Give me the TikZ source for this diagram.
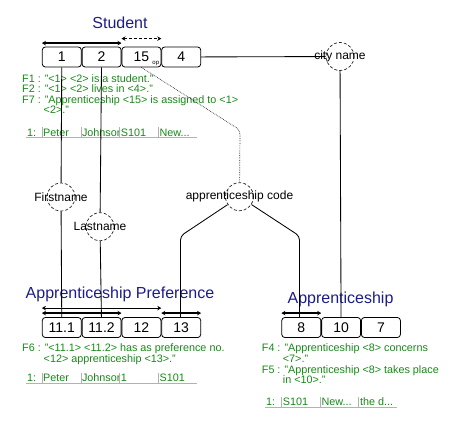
\documentclass[tikz,border=0pt]{standalone}
\usepackage{fontspec}
\setmainfont{Liberation Sans}
\usepackage{xcolor}
\usetikzlibrary{positioning,arrows.meta}

\definecolor{titleblue}{RGB}{28,28,140}
\definecolor{factgreen}{RGB}{24,136,24}
\newcommand{\clipdots}{...}

\tikzset{
  role/.style={draw, line width=0.8pt, rounded corners=3pt, minimum width=39pt, minimum height=20pt,
    inner sep=0pt, font=\fontsize{14}{14}\selectfont},
  entity/.style={draw=black!85, line width=0.7pt, densely dashed, circle, minimum size=28pt, inner sep=0pt},
  entitytext/.style={font=\fontsize{12}{12}\selectfont, inner sep=0pt},
  title/.style={text=titleblue, font=\fontsize{16}{16}\selectfont, anchor=base, inner sep=0pt},
  fact/.style={text=factgreen, font=\fontsize{10.8}{10.8}\selectfont, anchor=base west, inner sep=0pt},
  sep/.style={draw=black!30, line width=0.7pt},
  uniq/.style={<->, line width=1.4pt, >={Stealth[length=4pt,width=4.5pt]}},
  uniqthin/.style={<->, line width=0.8pt, >={Stealth[length=4pt,width=4.5pt]}},
  link/.style={line width=0.85pt}
}

\begin{document}
\begin{tikzpicture}[x=1pt,y=-1pt]
    \useasboundingbox (0,0) rectangle (452,431);

    % Student
    \node[title] (studenttitle) at (120,28.3) {Student};
    \node[role] (s1) at (61.8,57) {1};
    \node[role, right=0pt of s1] (s2) {2};
    \node[role, right=0pt of s2] (s15) {15};
    \node[role, right=0pt of s15] (s4) {4};
    \node[font=\fontsize{6}{6}\selectfont, inner sep=0pt] (op) at ([xshift=-5.5pt,yshift=3.5pt]s15.south east) {op};
    \draw[uniq] ([yshift=3.5pt]s1.north west) -- ([yshift=3.5pt]s2.north east);
    \draw[uniqthin, densely dashed] ([yshift=8pt]s15.north west) -- ([yshift=8pt]s15.north east);

    \node[fact] (f1) at (22,82) {F1 : "<1> <2> is a student."};
    \node[fact] (f2) at (22,92.6) {F2 : "<1> <2> lives in <4>."};
    \node[fact] (f7) at (22,103.3) {F7 : "Apprenticeship <15> is assigned to <1>};
    \node[fact] (f7b) at (43.5,113.9) {<2>."};
    \node[fact] (srow) at (27,136) {1:};
    \foreach \t [count=\i from 0] in {Peter,Johnsor,S101,New\clipdots}
      \node[fact] (srow\i) at (43+38.8*\i,136) {\t};
    \foreach \x in {42,81,119.5,158}
      \draw[sep] (\x,127) -- (\x,137.5);
    \draw[sep] (26,137.5) -- (197,137.5);

    % entity types / value types
    \node[entity] (firstname) at (61,197) {};
    \node[entitytext] at (firstname) {Firstname};
    \node[entity] (lastname) at (100,226.7) {};
    \node[entitytext] at (lastname) {Lastname};
    \node[entity] (appcode) at (239.5,196.7) {};
    \node[entitytext] at (appcode) {apprenticeship code};
    \node[entity] (cityname) at (340,56.5) {};
    \node[entitytext] at (cityname) {city name};

    % Apprenticeship Preference
    \node[title] (preftitle) at (120,298) {Apprenticeship Preference};
    \node[role] (p111) at (61.8,327.5) {11.1};
    \node[role, right=0pt of p111] (p112) {11.2};
    \node[role, right=0pt of p112] (p12) {12};
    \node[role, right=0pt of p12] (p13) {13};
    \draw[uniqthin] ([yshift=9pt]p111.north west) -- ([yshift=9pt]p12.north east);
    \draw[uniq] ([yshift=4pt]p111.north west) -- ([yshift=4pt]p112.north east);
    \draw[uniq] ([yshift=4pt]p13.north west) -- ([yshift=4pt]p13.north east);

    \node[fact] (f6) at (22,351.7) {F6 : "<11.1> <11.2> has as preference no.};
    \node[fact] (f6b) at (43.5,362.3) {<12> apprenticeship <13>."};
    \node[fact] (prow) at (27,381.7) {1:};
    \foreach \t [count=\i from 0] in {Peter,Johnsor,1,S101}
      \node[fact] (prow\i) at (43+38.8*\i,381.7) {\t};
    \foreach \x in {42,81,119.5,158}
      \draw[sep] (\x,373) -- (\x,383.7);
    \draw[sep] (26,383.7) -- (197,383.7);

    % Apprenticeship
    \node[title] (apptitle) at (340.5,303) {Apprenticeship};
    \node[role] (a8) at (301.3,327.5) {8};
    \node[role, right=0pt of a8] (a10) {10};
    \node[role, right=0pt of a10] (a7) {7};
    \draw[uniq] ([yshift=4pt]a8.north west) -- ([yshift=4pt]a8.north east);

    \node[fact] (f4) at (261.7,351.7) {F4 : "Apprenticeship <8> concerns};
    \node[fact] (f4b) at (282.7,362.4) {<7>."};
    \node[fact] (f5) at (261.7,373.1) {F5 : "Apprenticeship <8> takes place};
    \node[fact] (f5b) at (282.7,383.8) {in <10>."};
    \node[fact] (arow) at (266,405.7) {1:};
    \foreach \t [count=\i from 0] in {S101,New\clipdots,the d\clipdots}
      \node[fact] (arow\i) at (282.7+38.6*\i,405.7) {\t};
    \foreach \x in {281.7,320,358.7}
      \draw[sep] (\x,397) -- (\x,407);
    \draw[sep] (265,407) -- (397,407);

    % connectors
    \coordinate (bend15) at (240,130);
    \coordinate (bendl) at (180.5,236);
    \coordinate (bendr) at (299.5,236);
    \draw[link] (s1) -- (firstname) -- (p111);
    \draw[link] (s2) -- (lastname) -- (p112);
    \draw[link] (s4) -- (cityname) -- (a10);
    \draw[densely dotted, black!85, line width=0.7pt, rounded corners=4pt] (s15.south) -- (bend15) -- (appcode);
    \draw[link, rounded corners=4pt] (appcode) -- (bendl) -- (p13.north -| bendl);
    \draw[link, rounded corners=4pt] (appcode) -- (bendr) -- (a8.north -| bendr);
\end{tikzpicture}
\end{document}
